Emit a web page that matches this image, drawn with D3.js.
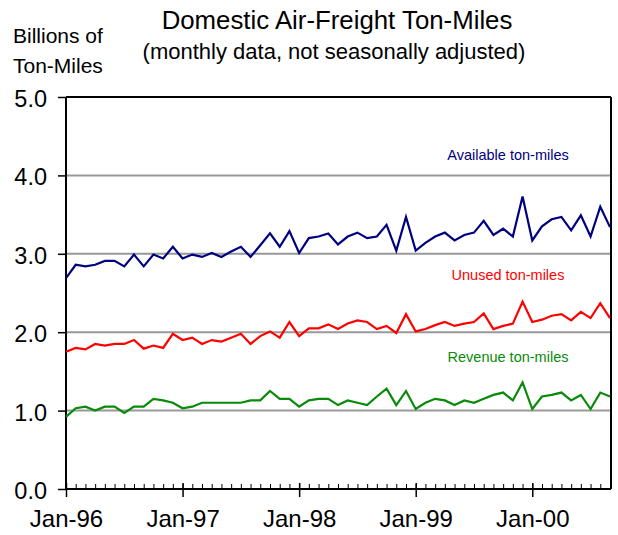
<!DOCTYPE html>
<html>
<head>
<meta charset="utf-8">
<script src="https://cdn.jsdelivr.net/npm/d3@7"></script>
<style>
  body { margin: 0; background: #fff; }
  text { font-family: "Liberation Sans", Arial, sans-serif; }
</style>
</head>
<body>
<div id="chart"></div>
<script>
// Chart size
var svgWidth = 618;
var svgHeight = 535;

var chartMargin = {
  top: 97,
  right: 7,
  bottom: 46,
  left: 66
};

var chartWidth = svgWidth - chartMargin.left - chartMargin.right;
var chartHeight = svgHeight - chartMargin.top - chartMargin.bottom;

// Data: monthly, Jan-96 .. Sep-00
var months = d3.timeMonth.range(new Date(1996, 0, 1), new Date(2000, 9, 1));

var available = [2.69, 2.86, 2.84, 2.86, 2.91, 2.91, 2.84, 2.99, 2.84, 2.99, 2.94, 3.09,
                 2.94, 2.99, 2.96, 3.01, 2.96, 3.03, 3.09, 2.96, 3.11, 3.26, 3.09, 3.29,
                 3.01, 3.20, 3.22, 3.26, 3.12, 3.22, 3.27, 3.20, 3.22, 3.37, 3.04, 3.47,
                 3.04, 3.14, 3.22, 3.27, 3.17, 3.24, 3.27, 3.42, 3.24, 3.32, 3.22, 3.73,
                 3.17, 3.35, 3.44, 3.47, 3.30, 3.49, 3.22, 3.60, 3.34];

var unused = [1.75, 1.80, 1.78, 1.85, 1.83, 1.85, 1.85, 1.90, 1.79, 1.83, 1.80, 1.98,
              1.90, 1.93, 1.85, 1.90, 1.88, 1.93, 1.98, 1.85, 1.95, 2.01, 1.93, 2.13,
              1.95, 2.05, 2.05, 2.10, 2.04, 2.11, 2.15, 2.13, 2.04, 2.08, 1.99, 2.23,
              2.01, 2.04, 2.09, 2.13, 2.08, 2.11, 2.13, 2.24, 2.04, 2.08, 2.11, 2.39,
              2.13, 2.16, 2.21, 2.23, 2.15, 2.26, 2.18, 2.37, 2.18];

var revenue = [0.92, 1.03, 1.05, 1.00, 1.05, 1.05, 0.97, 1.05, 1.05, 1.15, 1.13, 1.10,
               1.03, 1.05, 1.10, 1.10, 1.10, 1.10, 1.10, 1.13, 1.13, 1.25, 1.15, 1.15,
               1.05, 1.13, 1.15, 1.15, 1.07, 1.13, 1.10, 1.07, 1.18, 1.28, 1.07, 1.25,
               1.02, 1.10, 1.15, 1.13, 1.07, 1.13, 1.10, 1.15, 1.20, 1.23, 1.13, 1.36,
               1.02, 1.18, 1.20, 1.23, 1.13, 1.20, 1.02, 1.23, 1.18];

var seriesNames = ["Available ton-miles", "Unused ton-miles", "Revenue ton-miles"];
var seriesColors = ["#000080", "#ff0000", "#0a8a0a"];
var seriesValues = [available, unused, revenue];

var yTicks = [0, 1, 2, 3, 4, 5];
var xTickIndex = [0, 12, 24, 36, 48];
var xTickLabels = ["Jan-96", "Jan-97", "Jan-98", "Jan-99", "Jan-00"];

// where the series names sit (y in chart units)
var labelLevel = [4.2, 2.67, 1.62];

var svg = d3.select("#chart")
  .append("svg")
  .attr("width", svgWidth)
  .attr("height", svgHeight);

var chartGroup = svg.append("g")
  .attr("transform", `translate(${chartMargin.left}, ${chartMargin.top})`);

// Scales
var xScale = d3.scaleLinear()
  .domain([0, months.length - 1])
  .range([0, chartWidth - 1]);

var yScale = d3.scaleLinear()
  .domain([0, 5])
  .range([chartHeight, 0]);

// Gridlines
chartGroup.append("g")
  .selectAll("line")
  .data(yTicks.filter(d => d > 0 && d < 5))
  .enter()
  .append("line")
  .attr("x1", 0)
  .attr("x2", chartWidth)
  .attr("y1", d => yScale(d))
  .attr("y2", d => yScale(d))
  .attr("stroke", "#999")
  .attr("stroke-width", 2);

// Frame top / right
chartGroup.append("line")
  .attr("x1", 0).attr("x2", chartWidth)
  .attr("y1", yScale(5)).attr("y2", yScale(5))
  .attr("stroke", "#000").attr("stroke-width", 2);
chartGroup.append("line")
  .attr("x1", chartWidth).attr("x2", chartWidth)
  .attr("y1", yScale(5)).attr("y2", yScale(0))
  .attr("stroke", "#000").attr("stroke-width", 2);

// Left axis
var leftAxis = d3.axisLeft(yScale)
  .tickValues(yTicks)
  .tickSize(8)
  .tickPadding(11)
  .tickFormat(d3.format(".1f"));

var yAxis = chartGroup.append("g").call(leftAxis);
yAxis.select(".domain").attr("stroke-width", 2).attr("d", `M0,${chartHeight}V0`);
yAxis.selectAll(".tick line").attr("stroke-width", 1.5);
yAxis.selectAll("text")
  .attr("dy", "0.4em")
  .style("font-size", "23.5px")
  .attr("fill", "#000");

// Bottom axis: minor month ticks pointing up
var minorAxis = d3.axisBottom(xScale)
  .tickValues(d3.range(0, months.length))
  .tickSize(-5)
  .tickFormat("");

var xMinor = chartGroup.append("g")
  .attr("transform", `translate(0, ${chartHeight})`)
  .call(minorAxis);
xMinor.select(".domain").attr("stroke-width", 2).attr("d", `M0,0H${chartWidth}`);

// Bottom axis: year ticks with labels
var bottomAxis = d3.axisBottom(xScale)
  .tickValues(xTickIndex)
  .tickSize(8)
  .tickPadding(13)
  .tickFormat((d, i) => xTickLabels[i]);

var xAxis = chartGroup.append("g")
  .attr("transform", `translate(0, ${chartHeight})`)
  .call(bottomAxis);
xAxis.select(".domain").remove();
xAxis.selectAll(".tick line").attr("y1", -6).attr("stroke-width", 1.5);
xAxis.selectAll("text")
  .style("font-size", "24px")
  .attr("fill", "#000");

// Lines
var line = d3.line()
  .x((d, i) => xScale(i))
  .y(d => yScale(d));

seriesValues.forEach(function(values, k) {
  chartGroup.append("path")
    .datum(values)
    .attr("d", line)
    .attr("fill", "none")
    .attr("stroke", seriesColors[k])
    .attr("stroke-width", 2.2)
    .attr("stroke-linejoin", "miter");

  chartGroup.append("text")
    .attr("x", xScale(45.5))
    .attr("y", yScale(labelLevel[k]))
    .attr("text-anchor", "middle")
    .attr("fill", seriesColors[k])
    .style("font-size", "14.5px")
    .text(seriesNames[k]);
});

// Titles
svg.append("text")
  .attr("x", 337)
  .attr("y", 29)
  .attr("text-anchor", "middle")
  .style("font-size", "25.8px")
  .text("Domestic Air-Freight Ton-Miles");

svg.append("text")
  .attr("x", 334)
  .attr("y", 59)
  .attr("text-anchor", "middle")
  .style("font-size", "22px")
  .text("(monthly data, not seasonally adjusted)");

svg.append("text")
  .attr("x", 13)
  .attr("y", 43)
  .style("font-size", "21px")
  .text("Billions of");

svg.append("text")
  .attr("x", 13)
  .attr("y", 73)
  .style("font-size", "21px")
  .text("Ton-Miles");
</script>
</body>
</html>
